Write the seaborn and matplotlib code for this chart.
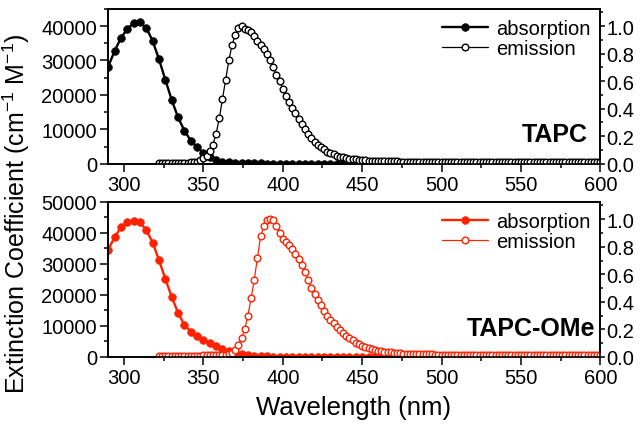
import numpy as np
import matplotlib
matplotlib.use('Agg')
import matplotlib.pyplot as plt
from matplotlib.ticker import MultipleLocator
import seaborn as sns

# ---- data ----
# absorption: 4 nm grid starting at 290 nm (extinction coefficient, M-1 cm-1)
abs_start, abs_step = 290, 4
tapc_abs = [28200, 32700, 36500, 39100, 40900, 41100, 39500, 35700, 30400, 24400,
            18600, 13500, 9650, 6750, 4800, 3200, 1950, 1250, 670, 420,
            280, 200, 150, 120, 100, 90, 80, 70, 65, 60,
            55, 50, 45, 40, 38, 35, 32, 30, 28, 26,
            24, 22, 20, 18, 17, 16, 15, 14, 13, 12,
            11, 10, 10, 9, 9, 8, 8, 7, 7, 6,
            6, 5, 5, 5, 4, 4, 4, 3, 3, 3,
            2, 2, 2, 2, 1, 1, 1, 1]
ome_abs = [34600, 38600, 41800, 43400, 44000, 43400, 41000, 36900, 31300, 25200,
           19400, 14300, 10350, 8200, 6800, 5600, 4500, 3450, 2600, 2000,
           1300, 900, 550, 350, 250, 200, 160, 130, 110, 95,
           85, 75, 68, 60, 55, 50, 45, 40, 36, 33,
           30, 27, 25, 23, 21, 19, 17, 16, 15, 14,
           13, 12, 11, 10, 10, 9, 9, 8, 8, 7,
           7, 6, 6, 5, 5, 5, 4, 4, 4, 3,
           3, 3, 2, 2, 2, 2, 1, 1]

# emission: 2 nm grid starting at 322 nm (normalised intensity)
em_start, em_step = 322, 2
tapc_em = [0.005, 0.005, 0.005, 0.006, 0.006, 0.007, 0.007, 0.008, 0.008, 0.009,
           0.010, 0.012, 0.015, 0.025, 0.04, 0.06, 0.09, 0.14, 0.22, 0.33,
           0.47, 0.61, 0.75, 0.86, 0.935, 0.985, 1.0, 0.98, 0.97, 0.955,
           0.925, 0.893, 0.862, 0.83, 0.80, 0.755, 0.70, 0.645, 0.60, 0.545,
           0.495, 0.45, 0.405, 0.37, 0.326, 0.29, 0.254, 0.217, 0.186, 0.162,
           0.138, 0.121, 0.104, 0.089, 0.078, 0.068, 0.060, 0.052, 0.046, 0.042,
           0.038, 0.035, 0.032, 0.029, 0.027, 0.025, 0.023, 0.021, 0.020, 0.019,
           0.018, 0.018, 0.018, 0.017, 0.017, 0.017, 0.016, 0.016, 0.016, 0.016,
           0.015, 0.015, 0.015, 0.015, 0.015, 0.014, 0.014, 0.014, 0.014, 0.014,
           0.013, 0.013, 0.013, 0.013, 0.013, 0.013, 0.012, 0.012, 0.012, 0.012,
           0.012, 0.012, 0.012, 0.011, 0.011, 0.011, 0.011, 0.011, 0.011, 0.011,
           0.011, 0.010, 0.010, 0.010, 0.010, 0.010, 0.010, 0.010, 0.010, 0.010,
           0.010, 0.010, 0.010, 0.010, 0.010, 0.010, 0.010, 0.010, 0.010, 0.010,
           0.010, 0.010, 0.010, 0.010, 0.010, 0.010, 0.010, 0.010, 0.010, 0.010]
ome_em = [0.008, 0.008, 0.008, 0.008, 0.008, 0.009, 0.009, 0.009, 0.009, 0.009,
          0.010, 0.010, 0.010, 0.010, 0.011, 0.011, 0.012, 0.012, 0.013, 0.014,
          0.015, 0.017, 0.020, 0.03, 0.05, 0.087, 0.14, 0.20, 0.30, 0.425,
          0.56, 0.72, 0.875, 0.95, 0.995, 1.0, 0.995, 0.95, 0.90, 0.86,
          0.835, 0.815, 0.785, 0.75, 0.71, 0.665, 0.614, 0.56, 0.50, 0.455,
          0.415, 0.375, 0.335, 0.30, 0.27, 0.245, 0.22, 0.195, 0.172, 0.152,
          0.137, 0.12, 0.104, 0.092, 0.081, 0.073, 0.065, 0.058, 0.052, 0.047,
          0.043, 0.039, 0.036, 0.034, 0.031, 0.029, 0.027, 0.025, 0.024, 0.023,
          0.022, 0.021, 0.021, 0.020, 0.020, 0.019, 0.019, 0.018, 0.018, 0.017,
          0.017, 0.017, 0.016, 0.016, 0.016, 0.016, 0.015, 0.015, 0.015, 0.015,
          0.015, 0.014, 0.014, 0.014, 0.014, 0.014, 0.014, 0.013, 0.013, 0.013,
          0.013, 0.013, 0.013, 0.013, 0.012, 0.012, 0.012, 0.012, 0.012, 0.012,
          0.012, 0.012, 0.012, 0.012, 0.012, 0.012, 0.012, 0.012, 0.012, 0.012,
          0.012, 0.012, 0.012, 0.012, 0.012, 0.012, 0.012, 0.012, 0.012, 0.012]

panels = [('TAPC', tapc_abs, tapc_em, 'black', 45000),
          ('TAPC-OMe', ome_abs, ome_em, '#ff2200', 50000)]

# ---- style ----
sns.set_style('ticks')
plt.rcParams['font.family'] = ['Liberation Sans', 'DejaVu Sans']
plt.rcParams['mathtext.fontset'] = 'custom'
plt.rcParams['mathtext.rm'] = 'Liberation Sans'
plt.rcParams['mathtext.it'] = 'Liberation Sans:italic'
plt.rcParams['mathtext.bf'] = 'Liberation Sans:bold'
for key in ['text.color', 'axes.labelcolor', 'xtick.color', 'ytick.color',
            'axes.edgecolor']:
    plt.rcParams[key] = 'black'

fig = plt.figure(figsize=(6.4, 4.27), dpi=100)
rects = [[0.169, 0.614, 0.769, 0.363], [0.169, 0.1616, 0.769, 0.363]]

for rect, (name, absv, emv, col, ytop) in zip(rects, panels):
    ax = fig.add_axes(rect)
    ax2 = ax.twinx()

    wl_abs = abs_start + abs_step * np.arange(len(absv))
    wl_em = em_start + em_step * np.arange(len(emv))

    sns.lineplot(x=wl_abs, y=absv, ax=ax, color=col, lw=1.7, marker='o',
                 markersize=5.5, markeredgecolor=col, markerfacecolor=col,
                 markeredgewidth=0.5, label='absorption', legend=False)
    sns.lineplot(x=wl_em, y=emv, ax=ax2, color=col, lw=0.9, marker='o',
                 markersize=4.8, markeredgecolor=col, markerfacecolor='white',
                 markeredgewidth=1.0, label='emission', legend=False)

    ax.set_xlim(290, 600)
    ax.set_ylim(0, ytop)
    ax2.set_ylim(0, 1.125)
    ax.set_xlabel('')
    ax.set_ylabel('')
    ax2.set_ylabel('')

    ax.xaxis.set_major_locator(MultipleLocator(50))
    ax.xaxis.set_minor_locator(MultipleLocator(25))
    ax.yaxis.set_major_locator(MultipleLocator(10000))
    ax.yaxis.set_minor_locator(MultipleLocator(5000))
    ax2.yaxis.set_major_locator(MultipleLocator(0.2))
    ax2.yaxis.set_minor_locator(MultipleLocator(0.1))
    ax2.set_yticks(np.arange(0, 1.01, 0.2))
    ax2.set_yticklabels(['%.1f' % v for v in np.arange(0, 1.01, 0.2)])

    ax.tick_params(axis='both', which='major', direction='out', length=5.5,
                   width=1.1, labelsize=14.5, pad=2.5, colors='black')
    ax.tick_params(axis='both', which='minor', direction='out', length=3,
                   width=1.1, colors='black')
    ax.tick_params(top=False, right=False, which='both')
    ax2.tick_params(axis='y', which='major', direction='out', length=3.5,
                    width=1.1, labelsize=14.5, pad=1, colors='black')
    ax2.tick_params(axis='y', which='minor', direction='out', length=2,
                    width=1.1, colors='black')

    for a in (ax, ax2):
        for sp in a.spines.values():
            sp.set_visible(True)
            sp.set_linewidth(1.2)
            sp.set_color('black')

    h1 = ax.get_lines()[-1]
    h2 = ax2.get_lines()[-1]
    leg = ax2.legend(handles=[h1, h2], loc='upper right', frameon=False,
                     fontsize=14.5, handlelength=2.3, handletextpad=0.4,
                     labelspacing=0.05, borderaxespad=0.3, borderpad=0.2)
    for t in leg.get_texts():
        t.set_color('black')

    ax2.text(0.975 if name == 'TAPC' else 0.99, 0.19, name,
             transform=ax2.transAxes, ha='right', va='center',
             fontsize=18, fontweight='bold', color='black')

fig.text(0.025, 0.5, r'Extinction Coefficient (cm$^{-1}$ M$^{-1}$)',
         rotation=90, ha='center', va='center', fontsize=18, color='black')
fig.text(0.553, 0.045, 'Wavelength (nm)', ha='center', va='center',
         fontsize=18.5, color='black')

fig.savefig('out.png', dpi=100)
